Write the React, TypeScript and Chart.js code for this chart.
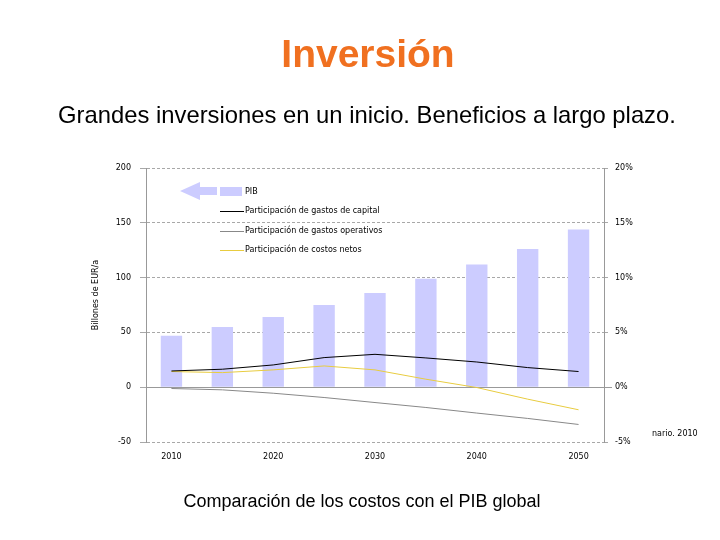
import React, { useEffect, useRef } from "react";
import { Chart, registerables } from "chart.js";

Chart.register(...registerables);

const years = ["2010", "2015", "2020", "2025", "2030", "2035", "2040", "2045", "2050"];
const pib = [47, 55, 64, 75, 86, 99, 112, 126, 144];
const capital = [1.48, 1.64, 2.03, 2.7, 3.0, 2.67, 2.3, 1.79, 1.43];
const operativos = [-0.12, -0.24, -0.55, -0.94, -1.4, -1.85, -2.36, -2.85, -3.4];
const netos = [1.43, 1.33, 1.58, 1.94, 1.58, 0.73, -0.03, -1.09, -2.06];
const leftTicks = [-50, 0, 50, 100, 150, 200];
const rightTicks = [-5, 0, 5, 10, 15, 20];

const legendLabels = [
  "PIB",
  "Participación de gastos de capital",
  "Participación de gastos operativos",
  "Participación de costos netos",
];
const barColor = "#ccccff";
const lineColors = ["#000000", "#888888", "#e8cc40"];
const axisTitle = "Billones de EUR/a";
const FONT = "'DejaVu Sans', sans-serif";

const overlayPlugin = {
  id: "overlay",
  beforeDatasetsDraw(chart: any) {
    const { ctx, chartArea } = chart;
    const y = chart.scales.y.getPixelForValue(0);
    ctx.save();
    ctx.strokeStyle = "#999999";
    ctx.lineWidth = 1;
    ctx.setLineDash([]);
    ctx.beginPath();
    ctx.moveTo(chartArea.left, Math.round(y) + 0.5);
    ctx.lineTo(chartArea.right + 8, Math.round(y) + 0.5);
    ctx.stroke();
    ctx.restore();
  },
  afterDraw(chart: any) {
    const { ctx, chartArea } = chart;
    const L = chartArea.left;
    const T = chartArea.top;
    ctx.save();
    ctx.font = `8px ${FONT}`;
    ctx.fillStyle = "#000";
    ctx.textAlign = "center";
    ctx.textBaseline = "middle";
    ctx.save();
    ctx.translate(96, 295);
    ctx.rotate(-Math.PI / 2);
    ctx.fillText(axisTitle, 0, 0);
    ctx.restore();
    // arrow
    const ax = L + 34;
    const ay = T + 23;
    ctx.fillStyle = barColor;
    ctx.beginPath();
    ctx.moveTo(ax, ay);
    ctx.lineTo(ax + 20, ay - 9);
    ctx.lineTo(ax + 20, ay - 4);
    ctx.lineTo(ax + 37, ay - 4);
    ctx.lineTo(ax + 37, ay + 4);
    ctx.lineTo(ax + 20, ay + 4);
    ctx.lineTo(ax + 20, ay + 9);
    ctx.closePath();
    ctx.fill();
    // legend
    const sx = L + 74;
    const tx = L + 99;
    ctx.fillRect(sx, T + 19, 22, 9);
    ctx.textAlign = "left";
    ctx.fillStyle = "#000";
    ctx.fillText(legendLabels[0], tx, T + 24);
    const rows = [T + 43, T + 63, T + 82];
    for (let i = 0; i < 3; i++) {
      ctx.strokeStyle = lineColors[i];
      ctx.lineWidth = 1;
      ctx.beginPath();
      ctx.moveTo(sx, rows[i] + 0.5);
      ctx.lineTo(sx + 24, rows[i] + 0.5);
      ctx.stroke();
      ctx.fillStyle = "#000";
      ctx.fillText(legendLabels[i + 1], tx, rows[i]);
    }
    ctx.restore();
  },
};

export default function App() {
  const ref = useRef<HTMLCanvasElement>(null);
  useEffect(() => {
    document.body.style.margin = "0";
    const chart = new Chart(ref.current as HTMLCanvasElement, {
      type: "bar",
      data: {
        labels: years,
        datasets: [
          {
            type: "line",
            label: legendLabels[1],
            data: capital,
            yAxisID: "y1",
            borderColor: lineColors[0],
            borderWidth: 1,
            pointRadius: 0,
            tension: 0,
            order: 1,
          },
          {
            type: "line",
            label: legendLabels[2],
            data: operativos,
            yAxisID: "y1",
            borderColor: lineColors[1],
            borderWidth: 1,
            pointRadius: 0,
            tension: 0,
            order: 1,
          },
          {
            type: "line",
            label: legendLabels[3],
            data: netos,
            yAxisID: "y1",
            borderColor: lineColors[2],
            borderWidth: 1,
            pointRadius: 0,
            tension: 0,
            order: 1,
          },
          {
            type: "bar",
            label: legendLabels[0],
            data: pib,
            yAxisID: "y",
            backgroundColor: barColor,
            borderWidth: 0,
            categoryPercentage: 1,
            barPercentage: 0.42,
            order: 2,
          },
        ],
      } as any,
      options: {
        responsive: false,
        animation: false,
        layout: { padding: { top: 168, left: 0, right: 0, bottom: 0 } },
        plugins: { legend: { display: false }, title: { display: false }, tooltip: { enabled: false } },
        scales: {
          x: {
            offset: true,
            grid: { display: false, drawTicks: false },
            border: { display: false },
            ticks: {
              autoSkip: false,
              maxRotation: 0,
              padding: 10,
              color: "#000",
              font: { family: FONT, size: 8 },
              callback: (v: any, i: number) => (Number(years[i]) % 10 === 0 ? years[i] : ""),
            },
            afterFit: (s: any) => {
              s.height = 98;
            },
          },
          y: {
            position: "left",
            min: -50,
            max: 200,
            afterBuildTicks: (s: any) => {
              s.ticks = leftTicks.map((v) => ({ value: v }));
            },
            grid: { color: "#a8a8a8", lineWidth: 1, tickLength: 6 },
            border: { display: true, color: "#999999", width: 1, dash: [3, 2] },
            ticks: { padding: 9, color: "#000", font: { family: FONT, size: 8 } },
            afterFit: (s: any) => {
              s.width = 146;
            },
          },
          y1: {
            position: "right",
            min: -5,
            max: 20,
            afterBuildTicks: (s: any) => {
              s.ticks = rightTicks.map((v) => ({ value: v }));
            },
            grid: {
              drawOnChartArea: false,
              color: "#a8a8a8",
              tickLength: 5,
              tickBorderDash: [3, 2],
            },
            border: { display: true, color: "#999999", width: 1 },
            ticks: {
              padding: 6,
              color: "#000",
              font: { family: FONT, size: 8 },
              callback: (v: any) => `${v}%`,
            },
            afterFit: (s: any) => {
              s.width = 116;
            },
          },
        },
      } as any,
      plugins: [overlayPlugin],
    });
    return () => chart.destroy();
  }, []);

  const abs: React.CSSProperties = {
    position: "absolute",
    left: 0,
    width: 720,
    textAlign: "center",
    fontFamily: "'Liberation Sans', Arial, sans-serif",
    lineHeight: 1,
    whiteSpace: "nowrap",
  };

  return (
    <div style={{ position: "relative", width: 720, height: 540, background: "#fff", overflow: "hidden" }}>
      <canvas ref={ref} width={720} height={540} style={{ position: "absolute", left: 0, top: 0 }} />
      <div style={{ ...abs, top: 34, fontSize: 39, fontWeight: "bold", color: "#f07020", left: 8 }}>Inversión</div>
      <div style={{ ...abs, top: 103, fontSize: 23.8, color: "#000", left: 7 }}>
        Grandes inversiones en un inicio. Beneficios a largo plazo.
      </div>
      <div style={{ ...abs, top: 492, fontSize: 18, color: "#000", left: 2 }}>
        Comparación de los costos con el PIB global
      </div>
      <div
        style={{
          position: "absolute",
          left: 652,
          top: 429,
          fontSize: 8,
          fontFamily: "'DejaVu Sans', sans-serif",
          color: "#000",
          whiteSpace: "nowrap",
        }}
      >
        nario. 2010
      </div>
    </div>
  );
}
